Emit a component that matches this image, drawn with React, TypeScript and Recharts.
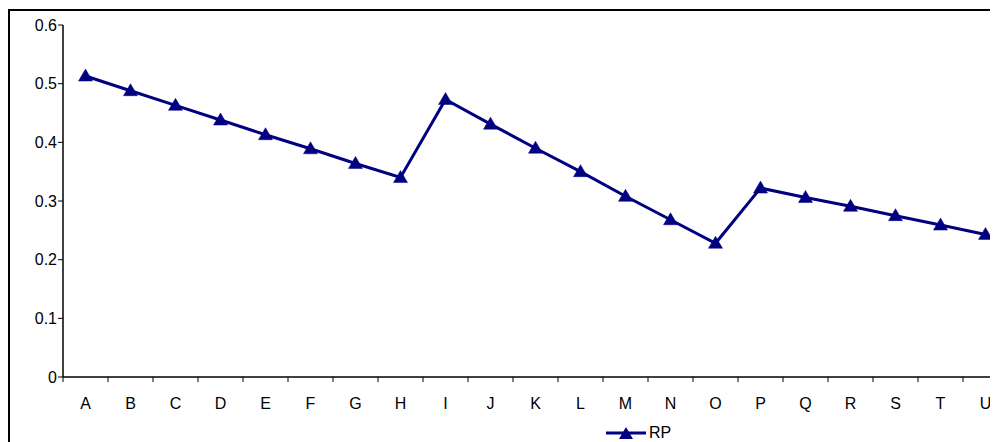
import React from 'react';
import { LineChart, Line, XAxis, YAxis, Legend } from 'recharts';

const categories = ['A','B','C','D','E','F','G','H','I','J','K','L','M','N','O','P','Q','R','S','T','U'];
const rpValues = [0.513,0.488,0.463,0.438,0.413,0.389,0.364,0.340,0.473,0.431,0.390,0.350,0.308,0.268,0.228,0.322,0.306,0.291,0.275,0.259,0.243];
const yTicks = [0, 0.1, 0.2, 0.3, 0.4, 0.5, 0.6];
const seriesName = 'RP';

const data = categories.map((c, i) => ({ cat: c, RP: rpValues[i] }));

const COLOR = '#000080';
const FONT = '"Liberation Sans", Arial, sans-serif';
const FS = 16;
const CHART_W = 1008;
const CHART_H = 450;
const MARGIN = { top: 14, right: 10, bottom: 34, left: 8 };
const YAXIS_W = 45;
const PLOT_W = CHART_W - MARGIN.left - MARGIN.right - YAXIS_W;
const BAND = PLOT_W / categories.length;

const Triangle = (props: any) => {
  const { cx, cy } = props;
  if (cx == null || cy == null) return null;
  return (
    <polygon
      points={`${cx},${cy - 7} ${cx - 7},${cy + 5} ${cx + 7},${cy + 5}`}
      fill={COLOR}
      stroke={COLOR}
      strokeWidth={0.5}
    />
  );
};

const XTick = (props: any) => {
  const { x, y, payload } = props;
  const left = x - BAND / 2;
  return (
    <g>
      <line x1={left} y1={y - 8} x2={left} y2={y - 3} stroke="#000" strokeWidth={1} />
      <text x={x} y={y + 24} textAnchor="middle" fontSize={FS} fontFamily={FONT} fill="#000">
        {payload.value}
      </text>
    </g>
  );
};

const LegendContent = () => (
  <div style={{ display: 'flex', alignItems: 'center', fontFamily: FONT, fontSize: FS, color: '#000' }}>
    <svg width={40} height={14}>
      <line x1={0} y1={7} x2={40} y2={7} stroke={COLOR} strokeWidth={3} />
      <polygon points="20,1 13,13 27,13" fill={COLOR} />
    </svg>
    <span style={{ marginLeft: 3 }}>{seriesName}</span>
  </div>
);

export default function App() {
  return (
    <div style={{ width: 990, height: 434, overflow: 'hidden', position: 'relative' }}>
      <div
        style={{
          position: 'absolute',
          left: 0,
          top: 1,
          width: 1100,
          height: 500,
          borderLeft: '2px solid #000',
          borderTop: '2px solid #000',
          background: '#fff',
        }}
      >
        <LineChart width={CHART_W} height={CHART_H} data={data} margin={MARGIN}>
          <XAxis
            dataKey="cat"
            scale="band"
            interval={0}
            tickLine={false}
            axisLine={{ stroke: '#000', strokeWidth: 1.5 }}
            tick={<XTick />}
            height={30}
          />
          <YAxis
            domain={[0, 0.6]}
            ticks={yTicks}
            width={YAXIS_W}
            tickSize={5}
            tickMargin={1}
            axisLine={{ stroke: '#000', strokeWidth: 1.5 }}
            tickLine={{ stroke: '#000', strokeWidth: 1 }}
            tick={{ fontSize: FS, fontFamily: FONT, fill: '#000' }}
            tickFormatter={(v: number) => String(v)}
            allowDataOverflow
          />
          <Legend
            verticalAlign="bottom"
            content={<LegendContent />}
            wrapperStyle={{ top: 413, left: 596, width: 90, height: 20 }}
          />
          <Line
            type="linear"
            dataKey="RP"
            name={seriesName}
            stroke={COLOR}
            strokeWidth={3}
            dot={<Triangle />}
            activeDot={false}
            isAnimationActive={false}
          />
        </LineChart>
      </div>
    </div>
  );
}
